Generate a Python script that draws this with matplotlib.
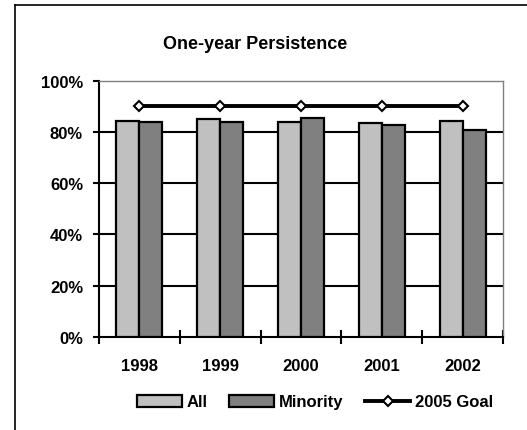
import numpy as np
import matplotlib
matplotlib.use("Agg")
import matplotlib.pyplot as plt
from matplotlib.lines import Line2D

plt.rcParams['font.family'] = ['Liberation Sans', 'DejaVu Sans']
plt.rcParams['font.weight'] = 'bold'

years = ['1998', '1999', '2000', '2001', '2002']
all_students = [84.4, 85.0, 83.8, 83.4, 84.2]
minority = [83.9, 83.9, 85.3, 82.9, 80.8]
goal_2005 = [90, 90, 90, 90, 90]
y_ticks = [0, 20, 40, 60, 80, 100]

W, H = 527, 431
fig = plt.figure(figsize=(W / 100, H / 100), dpi=100)
fig.patch.set_facecolor('white')

# outer frame (top and left edges visible)
fx, fy = 15 / W, 1 - 5.7 / H
fig.add_artist(Line2D([fx, fx], [-0.01, fy], transform=fig.transFigure, color='black', lw=1.2))
fig.add_artist(Line2D([fx, 1.01], [fy, fy], transform=fig.transFigure, color='black', lw=1.2))

ax = fig.add_axes([99 / W, 93 / H, (503 - 99) / W, (338 - 81.7) / H])

x = np.arange(len(years))
w = 0.285
b1 = ax.bar(x - w / 2, all_students, width=w, color='#C0C0C0', edgecolor='black',
            linewidth=1.6, zorder=3, label='All')
b2 = ax.bar(x + w / 2, minority, width=w, color='#808080', edgecolor='black',
            linewidth=1.6, zorder=3, label='Minority')
ln, = ax.plot(x, goal_2005, color='black', lw=2.8, marker='D', ms=5.5,
              mfc='white', mec='black', mew=1.5, zorder=4, label='2005 Goal')

# horizontal gridlines
ax.hlines(y_ticks[1:-1], -0.5, len(years) - 0.5, color='black', lw=1.5, zorder=1)

ax.set_xlim(-0.5, len(years) - 0.5)
ax.set_ylim(0, 100)
ax.set_yticks(y_ticks)
ax.set_yticklabels([f'{v}%' for v in y_ticks])
ax.tick_params(axis='y', direction='out', length=4.5, width=1.5, pad=7,
               labelsize=12, colors='black')

ax.set_xticks(np.arange(len(years) + 1) - 0.5)
ax.set_xticklabels([])
ax.tick_params(axis='x', which='major', direction='inout', length=9.5, width=1.5)
ax.set_xticks(x, minor=True)
ax.set_xticklabels(years, minor=True)
ax.tick_params(axis='x', which='minor', length=0, pad=15, labelsize=12)
for lab in ax.get_xticklabels(minor=True) + ax.get_yticklabels():
    lab.set_fontweight('bold')

for side in ['left', 'bottom']:
    ax.spines[side].set_color('black')
    ax.spines[side].set_linewidth(1.5)
for side in ['top', 'right']:
    ax.spines[side].set_color('#808080')
    ax.spines[side].set_linewidth(1.0)

fig.text(255 / W, 1 - 49 / H, 'One-year Persistence', ha='center', va='baseline',
         fontsize=13, fontweight='bold')

fig.legend([b1, b2, ln], ['All', 'Minority', '2005 Goal'],
           loc='center', bbox_to_anchor=(315 / W, 1 - 403 / H), ncol=3,
           frameon=False, handlelength=2.7, handleheight=0.72,
           handletextpad=0.3, columnspacing=1.3, numpoints=1,
           prop={'size': 12, 'weight': 'bold'})

fig.savefig('out.png', dpi=100, facecolor='white')
